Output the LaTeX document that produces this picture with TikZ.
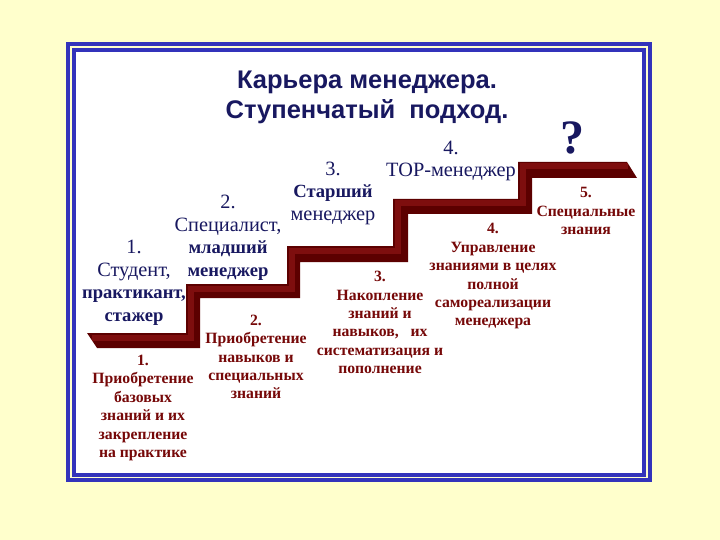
\documentclass[tikz,border=0pt]{standalone}
\usepackage{fontspec}
\setmainfont{Liberation Serif}
\newfontfamily\headfont{Liberation Sans}

\definecolor{paper}{RGB}{255,255,204}
\definecolor{frameblue}{RGB}{51,51,187}
\definecolor{inknavy}{RGB}{24,24,96}
\definecolor{inkred}{RGB}{118,8,8}
\definecolor{stairdark}{RGB}{92,0,0}
\definecolor{stairlight}{RGB}{126,14,14}

\newcommand{\rungbold}[1]{{\bfseries\fontsize{18.6}{22.5}\selectfont #1}}

\begin{document}
\begin{tikzpicture}[x=1pt, y=-1pt,
    every node/.style={align=center, inner sep=0pt}]
		\tikzset{%
  % Specifications for style of nodes:
           title/.style = {text=inknavy, font=\headfont\bfseries\fontsize{25.5}{30}\selectfont},
            rung/.style = {text=inknavy, font=\fontsize{20.3}{22.5}\selectfont},
            gain/.style = {text=inkred, font=\bfseries\fontsize{15.7}{18.4}\selectfont},
           frame/.style = {draw=frameblue, line width=4pt},
}
  \useasboundingbox (0,0) rectangle (720,540);
  \fill[paper] (0,0) rectangle (720,540);
  \fill[white] (74,50) rectangle (644,475);
  \draw[frame] (68,44) rectangle (649.5,480);
  \draw[frame] (74,50) rectangle (644,475);

  % the staircase
  \fill[stairdark] (87,333) -- (186,333) -- (186,284) -- (287,284) -- (287,246)
    -- (393,246) -- (393,199) -- (518,199) -- (518,162) -- (627,162) -- (637,178)
    -- (532,178) -- (532,214) -- (408,214) -- (408,262) -- (300,262) -- (300,298)
    -- (200,298) -- (200,348) -- (97,348) -- cycle;
  \draw[stairlight, line width=6pt, line join=miter] (92,337.5) -- (190.5,337.5)
    -- (190.5,288.5) -- (291.5,288.5) -- (291.5,250.5) -- (397.5,250.5)
    -- (397.5,203.5) -- (522.5,203.5) -- (522.5,166.5) -- (628,166.5);

  % Specification of nodes (position, etc.)
  \node (head) [title] at (367,97) {Карьера менеджера.\\Ступенчатый\ \ подход.};
  \node (ask) [text=inknavy, font=\bfseries\fontsize{48}{48}\selectfont] at (572,138) {?};

  \node (rung1) [rung] at (134,283) {1.\\Студент,\\\rungbold{практикант,}\\\rungbold{стажер}};
  \node (rung2) [rung] at (228,238) {2.\\Специалист,\\\rungbold{младший}\\\rungbold{менеджер}};
  \node (rung3) [rung] at (333,193) {3.\\\rungbold{Старший}\\менеджер};
  \node (rung4) [rung] at (451,161) {4.\\ТОР-менеджер};

  \node (gain1) [gain] at (143,408) {1.\\Приобретение\\базовых\\знаний и их\\закрепление\\на практике};
  \node (gain2) [gain] at (256,357) {2.\\Приобретение\\навыков и\\специальных\\знаний};
  \node (gain3) [gain] at (380,322.5) {3.\\Накопление\\знаний и\\навыков,\ \ \ их\\систематизация и\\пополнение};
  \node (gain4) [gain] at (493,276.5) {4.\\Управление\\знаниями в целях\\полной\\самореализации\\менеджера};
  \node (gain5) [gain] at (586,211) {5.\\Специальные\\знания};

  \end{tikzpicture}
\end{document}
